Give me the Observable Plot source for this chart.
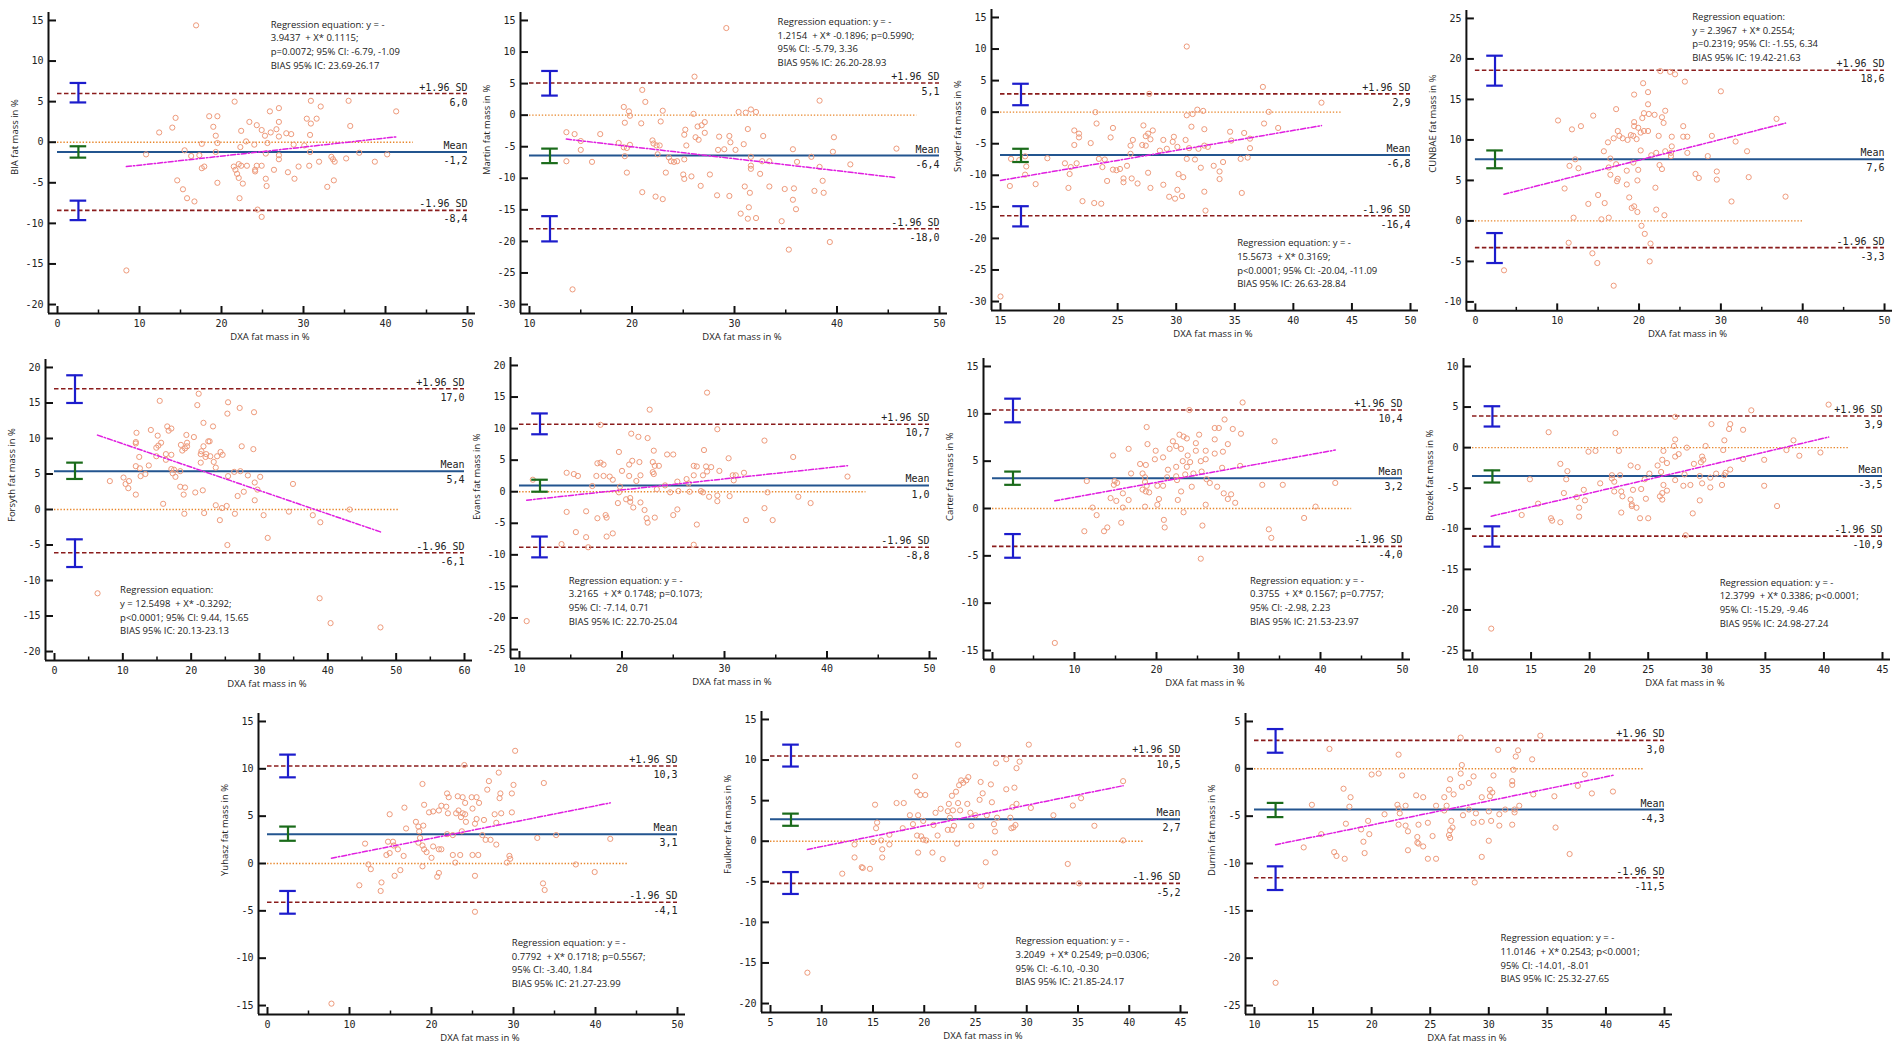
<!DOCTYPE html>
<html><head><meta charset="utf-8">
<script src="https://cdn.jsdelivr.net/npm/d3@7"></script>
<script src="https://cdn.jsdelivr.net/npm/@observablehq/plot@0.6"></script>
<style>
html,body{margin:0;padding:0;background:#fff}
body{width:1902px;height:1052px;position:relative;overflow:hidden}
.panel{position:absolute}
</style></head><body>
<script>
// ---------------- DATA ----------------
const bia = [[16.9,14.4],[21.6,5.0],[30.9,5.1],[35.5,5.1],[32.1,4.4],[27.0,4.2],[25.9,3.8],[41.3,3.8],[14.4,3.0],[18.5,3.2],[19.5,3.2],[30.4,2.9],[31.6,2.9],[23.4,2.5],[27.0,2.5],[30.9,2.3],[14.0,1.8],[19.0,1.9],[24.3,2.1],[35.7,2.0],[24.9,1.5],[26.7,1.6],[22.4,1.4],[12.4,1.2],[26.0,1.2],[27.9,1.1],[28.5,1.0],[19.3,0.8],[25.3,0.8],[27.0,0.7],[30.8,0.9],[23.0,0.1],[17.6,-0.2],[19.5,-0.1],[24.0,-0.3],[25.6,-0.1],[28.8,-0.3],[30.1,-0.4],[22.3,-0.6],[15.5,-1.0],[19.3,-1.2],[30.8,-1.2],[36.8,-1.3],[10.8,-1.5],[16.3,-1.7],[17.3,-1.6],[25.4,-1.4],[27.0,-1.6],[40.2,-1.5],[27.0,-2.1],[33.4,-1.8],[33.6,-2.1],[35.2,-2.0],[31.9,-2.4],[33.8,-2.4],[38.7,-2.4],[17.6,-3.2],[17.9,-3.0],[21.5,-3.0],[22.1,-2.7],[22.4,-2.9],[23.1,-2.9],[24.3,-2.9],[24.9,-2.9],[29.4,-3.0],[30.7,-2.9],[21.7,-3.4],[24.1,-3.4],[26.4,-3.4],[28.1,-3.7],[21.9,-3.9],[24.1,-3.6],[22.1,-4.4],[25.4,-4.5],[28.9,-4.5],[33.7,-4.7],[14.6,-4.7],[19.5,-5.0],[22.6,-5.1],[25.5,-5.4],[32.9,-5.5],[15.3,-5.8],[15.8,-6.9],[22.2,-6.9],[16.7,-7.3],[24.4,-8.3],[24.9,-9.2],[8.4,-15.8]];
const martin = [[29.2,13.8],[26.1,6.1],[21.0,4.0],[21.3,2.1],[38.3,2.3],[19.2,1.3],[19.7,0.6],[19.8,-0.1],[23.0,0.7],[26.0,0.2],[30.4,0.5],[31.1,0.4],[31.6,0.9],[32.1,0.5],[19.3,-1.2],[20.9,-1.3],[22.8,-1.0],[27.1,-1.1],[26.4,-1.8],[26.8,-1.6],[25.2,-2.3],[31.3,-2.2],[13.6,-2.7],[14.4,-3.0],[16.9,-3.0],[27.1,-2.8],[25.1,-3.1],[28.5,-3.4],[29.5,-3.3],[32.8,-3.3],[26.2,-3.5],[39.7,-3.5],[26.5,-3.9],[15.0,-4.1],[22.0,-4.0],[29.6,-4.3],[18.7,-4.4],[22.1,-4.5],[30.9,-4.6],[19.8,-4.7],[22.4,-4.8],[22.7,-4.8],[25.3,-4.8],[19.2,-5.1],[19.5,-5.2],[15.0,-5.5],[28.4,-5.5],[29.0,-5.4],[30.1,-5.5],[35.7,-5.4],[45.8,-5.3],[39.6,-5.8],[22.5,-6.2],[19.3,-6.5],[37.5,-6.6],[31.6,-6.6],[23.6,-6.7],[25.1,-7.0],[13.6,-7.3],[23.8,-7.3],[24.1,-7.4],[24.4,-7.3],[16.1,-7.4],[32.7,-7.3],[33.4,-7.3],[36.1,-7.4],[41.3,-7.8],[31.6,-8.0],[38.3,-8.2],[31.6,-8.5],[19.5,-9.1],[23.3,-9.1],[25.0,-9.4],[27.6,-9.4],[32.5,-9.3],[25.1,-10.1],[25.8,-9.7],[38.6,-10.4],[26.7,-11.2],[31.0,-11.3],[33.4,-11.3],[34.9,-11.7],[35.8,-11.6],[21.0,-12.2],[37.8,-12.0],[38.7,-12.3],[31.5,-12.3],[22.3,-12.9],[28.3,-12.7],[29.5,-12.8],[23.0,-13.3],[35.7,-13.4],[36.0,-14.9],[31.4,-14.6],[30.6,-15.6],[31.3,-16.4],[32.1,-16.3],[34.6,-16.8],[39.3,-20.1],[35.3,-21.3],[14.2,-27.6]];
const snyder = [[30.9,10.4],[37.4,4.0],[27.7,2.9],[42.4,1.5],[23.1,0.0],[31.8,0.4],[32.3,0.2],[37.9,0.05],[30.9,-0.5],[31.4,-0.3],[23.2,-1.8],[37.5,-1.8],[27.2,-2.1],[31.3,-2.3],[24.6,-2.5],[32.4,-2.7],[38.7,-2.5],[28.0,-2.9],[21.3,-2.9],[21.7,-3.4],[27.6,-3.4],[34.6,-3.1],[35.8,-3.3],[27.4,-3.8],[21.7,-4.0],[24.4,-4.0],[29.8,-3.9],[27.8,-4.3],[28.9,-4.4],[30.8,-4.4],[34.7,-4.5],[36.3,-4.2],[22.7,-4.9],[26.3,-4.4],[21.3,-5.2],[26.1,-5.3],[27.1,-5.2],[27.4,-5.3],[29.7,-4.7],[30.1,-5.5],[31.1,-5.7],[31.9,-5.8],[32.4,-5.3],[32.7,-5.5],[36.3,-5.7],[29.2,-5.8],[28.6,-6.1],[26.1,-6.6],[15.9,-7.4],[16.6,-7.6],[17.1,-7.0],[19.0,-7.3],[23.4,-7.4],[23.9,-7.5],[30.9,-7.4],[31.6,-7.5],[35.5,-7.4],[36.1,-7.2],[17.2,-8.6],[20.5,-8.1],[21.5,-8.1],[21.0,-8.7],[23.7,-8.7],[25.8,-8.5],[32.1,-8.8],[33.2,-8.5],[34.0,-7.9],[24.6,-9.1],[24.9,-9.2],[25.2,-9.0],[27.6,-9.6],[17.1,-9.9],[20.9,-9.8],[30.2,-9.8],[30.6,-10.3],[33.7,-9.4],[33.7,-10.6],[24.1,-10.9],[25.5,-10.5],[25.5,-11.1],[26.2,-10.5],[26.7,-11.3],[18.0,-11.4],[15.8,-11.7],[28.9,-11.5],[20.8,-12.0],[27.8,-12.0],[30.1,-12.3],[32.4,-12.6],[35.6,-12.8],[29.4,-13.4],[29.9,-13.7],[30.5,-13.3],[22.0,-14.1],[23.0,-14.4],[23.6,-14.5],[32.5,-15.6],[15.0,-29.2]];
const cunbae = [[22.6,18.5],[23.8,18.4],[24.4,18.1],[25.6,17.2],[20.5,17.0],[30.0,16.0],[21.1,15.9],[19.4,15.6],[21.1,14.4],[17.2,13.8],[23.2,13.6],[14.4,13.0],[20.6,13.3],[21.2,13.2],[21.9,13.1],[20.4,12.7],[22.8,12.8],[36.8,12.6],[10.1,12.4],[19.4,12.2],[23.0,12.1],[12.9,11.7],[19.4,11.7],[25.4,11.7],[11.8,11.3],[19.9,11.5],[17.4,11.1],[20.6,11.1],[21.1,11.1],[20.2,10.9],[17.6,10.5],[19.0,10.6],[19.3,10.5],[22.4,10.5],[24.0,10.4],[25.4,10.4],[25.9,10.4],[28.9,10.5],[16.9,10.2],[18.0,10.2],[18.6,10.0],[19.7,10.1],[31.8,9.8],[16.2,9.7],[24.0,9.2],[23.2,8.6],[20.2,8.7],[15.7,8.6],[22.1,8.4],[23.9,8.4],[25.9,8.4],[33.2,8.6],[21.5,8.1],[28.4,8.0],[23.9,8.0],[16.5,7.7],[12.2,7.6],[17.2,7.0],[19.3,7.2],[22.5,6.9],[11.5,6.8],[16.3,6.6],[12.6,6.5],[18.5,6.2],[22.8,6.4],[19.9,6.3],[29.5,6.1],[16.5,5.7],[26.9,5.8],[17.4,5.2],[17.3,4.9],[19.8,5.0],[27.3,5.3],[29.5,5.1],[33.4,5.4],[18.5,4.5],[10.9,4.0],[22.0,4.1],[15.0,3.2],[37.9,3.0],[18.8,2.9],[13.8,2.1],[15.8,2.2],[31.3,2.4],[19.1,1.6],[19.4,1.8],[19.8,1.1],[22.1,1.4],[23.1,0.7],[12.0,0.4],[15.4,0.2],[16.3,0.4],[20.3,-0.6],[20.7,-1.6],[11.4,-2.7],[21.4,-2.8],[14.3,-4.0],[21.3,-5.0],[14.9,-5.2],[3.5,-6.1],[16.9,-8.0]];
const forsyth = [[21.1,16.3],[15.4,15.3],[25.4,15.1],[20.9,14.7],[27.1,14.3],[29.2,13.7],[25.3,13.5],[21.8,12.2],[23.2,11.7],[16.5,11.7],[17.1,11.4],[14.1,11.2],[16.7,11.1],[12.0,10.8],[15.1,10.4],[19.3,10.5],[20.4,10.2],[11.9,9.5],[11.9,9.3],[15.6,9.4],[18.5,9.1],[19.4,9.4],[22.5,9.6],[22.7,9.6],[15.2,9.0],[14.9,8.7],[19.4,8.9],[21.8,8.9],[27.4,8.9],[18.7,8.3],[19.1,8.6],[29.1,8.5],[21.5,8.2],[24.3,8.1],[16.3,7.8],[17.1,7.7],[21.4,7.8],[22.2,7.8],[24.6,7.7],[22.1,7.4],[22.8,7.5],[23.8,7.5],[12.4,7.4],[14.9,7.5],[16.3,7.0],[23.3,6.7],[21.4,6.6],[13.8,6.2],[11.9,6.1],[12.5,5.8],[23.6,5.9],[17.1,5.7],[17.5,5.6],[18.4,5.4],[17.3,5.1],[26.3,5.3],[27.2,5.4],[13.3,5.0],[12.6,4.7],[17.7,4.6],[25.4,4.7],[28.3,4.8],[30.1,4.6],[10.1,4.5],[8.1,4.0],[10.9,4.0],[29.3,3.8],[10.4,3.6],[34.9,3.6],[10.8,3.0],[18.4,3.2],[19.1,3.1],[29.7,2.8],[21.7,2.7],[20.6,2.4],[27.7,2.5],[11.9,2.1],[18.9,2.1],[26.8,1.9],[29.3,1.3],[15.9,0.8],[23.6,0.6],[25.2,0.5],[24.5,0.2],[43.2,0.0],[19.0,-0.6],[21.9,-0.5],[26.4,-0.6],[30.6,-0.8],[34.3,-0.3],[37.8,-0.8],[38.9,-1.8],[24.2,-1.5],[31.2,-4.0],[25.3,-5.0],[6.3,-11.8],[38.8,-12.5],[40.4,-16.0],[47.7,-16.6]];
const evans = [[28.3,15.7],[22.7,13.0],[17.9,10.6],[29.3,9.9],[20.9,9.2],[21.6,8.7],[22.5,8.5],[33.9,8.1],[28.0,6.6],[19.7,6.3],[23.1,6.5],[24.4,5.9],[25.0,5.9],[36.7,5.5],[30.4,5.3],[21.0,4.9],[21.7,4.7],[23.0,4.7],[17.6,4.5],[17.9,4.6],[18.2,4.3],[20.7,4.3],[23.2,4.1],[23.6,4.1],[27.0,4.1],[27.3,4.0],[28.2,4.0],[28.7,3.9],[14.6,3.0],[15.3,2.8],[15.7,2.5],[20.0,3.3],[23.0,3.1],[28.3,3.2],[29.5,3.3],[31.9,3.0],[17.5,2.5],[18.2,2.5],[18.8,2.4],[19.1,1.9],[20.7,2.5],[21.8,2.6],[23.1,2.8],[27.0,2.6],[27.9,2.6],[30.8,2.6],[31.1,2.6],[30.9,1.8],[42.0,2.4],[25.4,1.6],[26.3,2.0],[26.5,1.3],[21.4,1.7],[11.3,1.9],[17.1,0.9],[19.8,0.8],[24.2,1.0],[19.7,-0.1],[23.4,0.4],[24.7,-0.1],[25.5,0.1],[26.6,0.0],[27.7,0.1],[27.9,-0.1],[34.2,-0.1],[29.3,-0.6],[28.5,-0.8],[30.5,-0.7],[37.2,-0.8],[20.4,-1.2],[20.8,-1.0],[20.8,-1.6],[21.1,-2.5],[21.8,-1.7],[29.3,-1.5],[19.6,-1.8],[38.4,-1.8],[22.2,-2.9],[25.4,-2.8],[33.9,-2.6],[14.6,-3.2],[16.5,-3.1],[18.4,-3.7],[18.5,-4.1],[17.6,-4.2],[23.2,-4.1],[22.4,-4.2],[25.0,-3.7],[22.5,-4.9],[32.1,-4.5],[34.7,-4.5],[27.3,-5.2],[15.5,-6.4],[19.1,-6.6],[16.5,-7.2],[18.5,-7.1],[14.1,-8.3],[16.7,-8.8],[27.0,-8.4],[10.7,-20.5]];
const carter = [[30.5,11.2],[24.0,10.4],[28.3,9.4],[18.8,8.6],[27.1,8.5],[27.6,8.5],[29.3,8.4],[22.8,7.8],[25.2,7.8],[30.3,7.9],[23.3,7.6],[23.7,7.4],[27.1,7.3],[22.0,7.1],[34.4,7.1],[18.9,6.8],[24.8,6.9],[28.7,6.8],[22.4,6.6],[21.6,6.3],[23.0,6.3],[16.6,6.3],[19.9,6.1],[24.8,6.1],[26.0,6.1],[28.1,6.0],[27.1,5.8],[14.7,5.6],[23.8,5.6],[20.8,5.4],[19.8,5.2],[25.4,5.0],[26.0,5.2],[23.2,5.0],[24.1,4.9],[18.0,4.7],[18.7,4.6],[22.4,4.4],[23.7,4.4],[28.0,4.3],[30.2,4.5],[21.4,4.1],[25.5,3.9],[16.9,3.7],[18.3,3.7],[23.5,3.6],[24.5,3.7],[22.4,3.4],[18.6,3.3],[21.3,3.3],[26.1,3.1],[22.5,3.0],[11.5,2.9],[14.9,2.9],[18.6,2.8],[15.2,2.7],[14.8,2.5],[26.5,2.7],[32.9,2.5],[35.4,2.5],[41.8,2.7],[18.8,2.4],[20.1,2.4],[20.8,2.4],[24.3,2.3],[27.4,2.3],[18.3,2.0],[18.7,1.8],[19.1,1.7],[23.0,1.8],[28.2,1.6],[29.1,1.5],[15.9,1.6],[28.7,1.0],[14.4,1.1],[15.1,0.8],[16.6,0.9],[20.3,1.0],[22.6,0.9],[29.6,0.6],[20.1,0.4],[26.0,0.4],[18.6,0.2],[12.2,0.1],[15.9,0.1],[39.4,0.2],[23.3,-0.4],[12.7,-0.7],[38.0,-1.0],[20.9,-1.2],[15.7,-1.5],[25.6,-1.8],[21.0,-2.0],[14.0,-2.0],[33.7,-2.2],[11.2,-2.4],[13.6,-2.4],[34.0,-3.1],[25.4,-5.3],[7.6,-14.2]];
const brozek = [[40.4,5.3],[33.8,4.6],[27.3,3.8],[30.4,2.9],[32.0,2.9],[31.9,2.3],[33.1,2.2],[16.5,1.9],[22.2,1.8],[27.3,1.0],[31.5,0.9],[37.4,0.9],[27.2,0.2],[28.3,0.0],[29.9,0.2],[19.9,-0.5],[20.5,-0.4],[22.5,-0.4],[26.3,-0.4],[31.4,-0.3],[36.8,-0.3],[39.7,-0.6],[27.6,-0.8],[37.9,-1.0],[27.3,-1.1],[29.6,-1.1],[29.7,-1.5],[26.2,-1.5],[34.9,-1.5],[33.1,-1.4],[26.6,-1.9],[29.5,-1.8],[28.9,-2.0],[17.5,-2.0],[23.5,-2.2],[24.1,-2.4],[25.8,-2.2],[32.0,-2.7],[18.1,-2.9],[26.1,-3.0],[31.6,-3.1],[25.1,-3.2],[30.8,-3.2],[21.9,-3.4],[22.6,-3.4],[28.1,-3.3],[29.4,-3.5],[30.3,-3.7],[31.5,-3.4],[14.9,-3.9],[18.0,-3.9],[21.9,-3.8],[22.1,-4.2],[27.3,-4.0],[24.7,-3.9],[20.9,-4.4],[26.3,-4.6],[28.6,-4.6],[28.0,-4.7],[29.6,-4.4],[31.3,-4.6],[30.3,-4.9],[34.9,-4.7],[23.7,-5.2],[24.4,-5.1],[19.5,-5.2],[26.6,-5.3],[22.1,-5.4],[22.7,-5.4],[17.8,-5.6],[26.2,-5.6],[26.0,-6.0],[22.8,-6.0],[18.9,-6.1],[19.6,-6.5],[23.5,-6.4],[24.8,-6.3],[26.2,-6.4],[29.4,-6.5],[15.6,-6.9],[23.6,-7.0],[23.6,-7.2],[24.0,-7.4],[19.1,-7.4],[36.0,-7.2],[22.7,-8.0],[28.8,-8.1],[14.2,-8.3],[16.7,-8.7],[16.8,-9.0],[17.5,-9.2],[19.1,-8.5],[24.3,-8.7],[25.0,-8.7],[28.2,-10.8],[11.6,-22.3]];
const yuhasz = [[30.2,11.9],[24.0,10.4],[28.2,9.6],[27.0,8.7],[33.7,8.5],[18.9,8.4],[30.0,8.3],[26.8,7.8],[21.9,7.4],[28.4,7.4],[29.8,7.4],[22.1,7.0],[23.2,7.1],[23.8,7.0],[24.9,7.0],[25.5,7.0],[28.3,6.9],[24.1,6.4],[25.8,6.4],[19.1,6.2],[21.2,6.1],[21.8,6.0],[16.7,5.9],[25.0,5.8],[19.7,5.4],[20.2,5.5],[20.9,5.6],[22.0,5.3],[23.0,5.3],[23.3,5.6],[23.8,5.3],[24.1,5.2],[28.5,5.3],[29.8,5.4],[14.9,5.2],[23.6,4.9],[25.5,4.7],[26.4,4.6],[24.2,4.4],[18.1,4.4],[25.3,4.2],[27.7,5.2],[27.9,4.3],[19.0,4.0],[18.4,3.9],[16.9,3.7],[18.5,3.4],[23.7,3.4],[21.9,3.1],[22.6,3.0],[26.2,3.0],[35.2,3.0],[18.6,2.7],[32.9,2.7],[41.8,2.6],[26.6,2.5],[27.2,2.5],[14.7,2.3],[15.3,2.3],[18.4,2.2],[11.9,2.1],[27.9,2.0],[15.4,1.9],[18.9,1.9],[20.2,1.8],[19.1,1.5],[20.9,1.5],[21.2,1.5],[15.9,1.5],[19.4,1.2],[14.9,1.1],[14.5,0.9],[16.6,0.8],[22.6,0.9],[23.5,0.9],[25.0,0.9],[25.7,0.9],[20.0,0.6],[29.5,0.8],[29.6,0.5],[22.9,0.1],[29.2,0.1],[12.3,-0.1],[18.9,-0.3],[37.6,-0.1],[12.6,-0.6],[16.2,-0.7],[39.9,-0.9],[20.9,-1.0],[20.7,-1.4],[15.5,-1.3],[25.3,-1.3],[13.9,-2.0],[33.6,-2.1],[11.2,-2.3],[33.8,-2.8],[13.8,-2.9],[25.3,-5.1],[7.8,-14.8]];
const faulkner = [[23.3,11.9],[30.2,11.9],[28.0,10.1],[27.0,9.6],[29.3,9.8],[29.0,9.0],[19.1,8.0],[24.3,7.9],[23.6,7.5],[24.1,7.5],[25.5,7.3],[39.4,7.4],[23.4,6.9],[23.8,7.2],[26.5,7.0],[28.8,6.6],[28.0,6.4],[23.1,6.1],[19.3,6.1],[19.6,5.7],[20.1,5.7],[25.7,5.9],[22.7,5.6],[25.4,5.1],[35.3,5.3],[17.3,4.7],[18.0,4.7],[22.4,4.6],[23.3,4.7],[24.2,4.6],[26.6,4.8],[15.2,4.5],[29.0,4.6],[34.5,4.4],[21.6,4.0],[30.4,4.1],[28.6,4.2],[21.1,3.5],[22.3,3.7],[22.8,3.8],[23.5,3.8],[24.5,3.5],[25.0,3.2],[26.1,3.2],[18.6,3.2],[19.4,3.2],[32.6,3.2],[22.5,2.9],[27.1,2.9],[28.4,2.9],[19.9,2.5],[15.4,2.3],[18.9,2.1],[20.9,2.0],[22.9,1.9],[24.6,1.9],[26.8,2.1],[28.9,2.0],[36.6,1.9],[15.3,1.6],[17.9,1.6],[22.3,1.4],[22.7,1.4],[28.5,1.6],[28.7,1.7],[26.9,1.2],[16.6,0.8],[19.3,0.7],[21.3,0.7],[19.7,0.6],[19.9,0.2],[20.2,0.1],[15.8,0.1],[15.0,-0.1],[39.4,0.1],[13.2,-0.4],[16.6,-0.4],[23.2,-0.3],[15.9,-1.0],[19.4,-1.4],[20.8,-1.4],[26.9,-1.4],[13.2,-2.0],[15.9,-2.0],[21.8,-2.2],[26.0,-2.6],[34.0,-2.8],[13.9,-3.2],[14.0,-3.3],[14.7,-3.4],[12.0,-4.0],[35.1,-5.2],[25.5,-5.5],[8.6,-16.2]];
const durnin = [[34.4,3.5],[27.6,3.3],[16.4,2.1],[30.8,2.0],[32.5,1.95],[22.3,1.5],[32.3,1.3],[33.7,1.0],[27.7,0.4],[32.1,-0.1],[27.6,-0.5],[20.0,-0.6],[20.6,-0.5],[22.6,-0.7],[28.7,-0.8],[30.4,-0.7],[38.2,-0.6],[26.7,-1.1],[32.0,-1.3],[28.3,-1.5],[32.0,-1.7],[37.6,-1.8],[27.7,-1.9],[17.6,-2.1],[26.6,-2.2],[30.1,-2.2],[40.6,-2.4],[30.3,-2.5],[27.0,-2.7],[38.8,-2.6],[33.8,-2.7],[23.8,-2.8],[30.1,-2.9],[29.4,-3.0],[24.4,-3.0],[18.2,-3.0],[26.2,-3.0],[35.6,-2.9],[14.9,-3.8],[18.1,-4.0],[22.2,-3.8],[22.9,-3.9],[25.5,-3.9],[26.4,-3.9],[32.6,-3.9],[22.3,-4.2],[26.2,-4.4],[28.3,-4.3],[30.0,-4.5],[31.4,-4.3],[32.2,-4.3],[22.4,-4.7],[21.1,-4.8],[28.9,-4.7],[30.9,-4.8],[32.2,-4.6],[27.8,-4.9],[19.7,-5.5],[30.2,-5.5],[26.8,-5.5],[28.7,-5.7],[29.4,-5.6],[17.8,-5.8],[22.3,-5.9],[24.8,-5.7],[24.0,-5.9],[22.9,-6.0],[26.9,-6.2],[30.9,-6.0],[32.0,-5.9],[35.7,-6.2],[19.1,-6.4],[23.1,-6.6],[26.7,-6.5],[15.7,-6.9],[19.8,-6.9],[25.2,-7.1],[23.9,-7.2],[26.6,-7.0],[26.7,-7.3],[19.3,-7.7],[30.0,-7.6],[23.9,-7.8],[24.0,-7.9],[24.4,-8.2],[14.2,-8.3],[19.4,-8.9],[23.1,-8.6],[16.8,-8.8],[17.0,-9.2],[17.7,-9.5],[24.8,-9.5],[25.5,-9.5],[29.4,-9.3],[36.9,-9.0],[28.8,-12.0],[11.8,-22.6]];

const methods = ["BIA","Martin","Snyder","CUNBAE","Forsyth","Evans","Carter","Brozek","Yuhasz","Faulkner","Durnin"];
const methodPoints = [bia, martin, snyder, cunbae, forsyth, evans, carter, brozek, yuhasz, faulkner, durnin];

const xTickLabels = [[0,10,20,30,40,50],[10,20,30,40,50],[15,20,25,30,35,40,45,50],[0,10,20,30,40,50],[0,10,20,30,40,50,60],[10,20,30,40,50],[0,10,20,30,40,50],[10,15,20,25,30,35,40,45],[0,10,20,30,40,50],[5,10,15,20,25,30,35,40,45],[10,15,20,25,30,35,40,45]];
const xMinorTicks = [[5,15,25,35,45],[15,25,35,45],[],[5,15,25,35,45],[5,15,25,35,45,55],[15,25,35,45],[5,15,25,35,45],[],[5,15,25,35,45],[],[]];
const yTickLabels = [[-20,-15,-10,-5,0,5,10,15],[-30,-25,-20,-15,-10,-5,0,5,10,15],[-30,-25,-20,-15,-10,-5,0,5,10,15],[-10,-5,0,5,10,15,20,25],[-20,-15,-10,-5,0,5,10,15,20],[-25,-20,-15,-10,-5,0,5,10,15,20],[-15,-10,-5,0,5,10,15],[-25,-20,-15,-10,-5,0,5,10],[-15,-10,-5,0,5,10,15],[-20,-15,-10,-5,0,5,10,15],[-25,-20,-15,-10,-5,0,5]];

const meanBias = [-1.2,-6.4,-6.8,7.6,5.4,1.0,3.2,-3.5,3.1,2.7,-4.3];
const upperLoA = [6.0,5.1,2.9,18.6,17.0,10.7,10.4,3.9,10.3,10.5,3.0];
const lowerLoA = [-8.4,-18.0,-16.4,-3.3,-6.1,-8.8,-4.0,-10.9,-4.1,-5.2,-11.5];
const upperCI = [[4.9,7.3],[3.1,7.0],[1.1,4.5],[16.7,20.4],[15.0,18.9],[9.1,12.4],[9.1,11.6],[2.6,5.1],[9.1,11.5],[9.2,11.9],[1.7,4.2]];
const meanCI = [[-1.9,-0.5],[-7.6,-5.3],[-7.9,-5.8],[6.5,8.7],[4.3,6.6],[0.0,1.9],[2.5,3.9],[-4.3,-2.8],[2.4,3.9],[1.9,3.4],[-5.1,-3.6]];
const lowerCI = [[-9.6,-7.2],[-20.0,-16.0],[-18.1,-14.9],[-5.2,-1.5],[-8.1,-4.2],[-10.4,-7.1],[-5.2,-2.7],[-12.2,-9.7],[-5.3,-2.9],[-6.5,-3.8],[-12.8,-10.3]];
const zeroLineEnd = [43.4,47.8,44.1,40.1,50.4,43.8,43.8,42.1,43.9,41.4,43.2];
const regIntercept = [-3.9437,-1.2154,-15.5673,2.3967,12.5498,-3.2165,-0.3755,-12.3799,-0.7792,-3.2049,-11.0146];
const regSlope = [0.1115,-0.1896,0.3169,0.2554,-0.3292,0.1748,0.1567,0.3386,0.1718,0.2549,0.2543];
const regressionText = [
  ["Regression equation: y = -","3.9437  + X* 0.1115;","p=0.0072; 95% CI: -6.79, -1.09","BIAS 95% IC: 23.69-26.17"],
  ["Regression equation: y = -","1.2154  + X* -0.1896; p=0.5990;","95% CI: -5.79, 3.36","BIAS 95% IC: 26.20-28.93"],
  ["Regression equation: y = -","15.5673  + X* 0.3169;","p<0.0001; 95% CI: -20.04, -11.09","BIAS 95% IC: 26.63-28.84"],
  ["Regression equation:","y = 2.3967  + X* 0.2554;","p=0.2319; 95% CI: -1.55, 6.34","BIAS 95% IC: 19.42-21.63"],
  ["Regression equation:","y = 12.5498  + X* -0.3292;","p<0.0001; 95% CI: 9.44, 15.65","BIAS 95% IC: 20.13-23.13"],
  ["Regression equation: y = -","3.2165  + X* 0.1748; p=0.1073;","95% CI: -7.14, 0.71","BIAS 95% IC: 22.70-25.04"],
  ["Regression equation: y = -","0.3755  + X* 0.1567; p=0.7757;","95% CI: -2.98, 2.23","BIAS 95% IC: 21.53-23.97"],
  ["Regression equation: y = -","12.3799  + X* 0.3386; p<0.0001;","95% CI: -15.29, -9.46","BIAS 95% IC: 24.98-27.24"],
  ["Regression equation: y = -","0.7792  + X* 0.1718; p=0.5567;","95% CI: -3.40, 1.84","BIAS 95% IC: 21.27-23.99"],
  ["Regression equation: y = -","3.2049  + X* 0.2549; p=0.0306;","95% CI: -6.10, -0.30","BIAS 95% IC: 21.85-24.17"],
  ["Regression equation: y = -","11.0146  + X* 0.2543; p<0.0001;","95% CI: -14.01, -8.01","BIAS 95% IC: 25.32-27.65"]
];

// ---------------- LAYOUT (positions, not data) ----------------
const panelOrigin = [[0,0],[472,0],[943,-3],[1418,-2],[-3,347],[462,345],[935,346],[1415,346],[210,701],[713,699],[1197,701]];
const ciBarX = [2.55,12,16.75,2.4,3,12,2.5,11.7,2.5,7,11.8];
const notePlace = [[26.0,15.33],[34.2,15.8],[35.2,-19.7],[26.5,26.0],[9.6,-10.44],[14.8,-13.0],[31.4,-6.9],[31.1,-15.8],[29.8,-7.7],[28.9,-11.5],[31.0,-17.2]];

const MONO = "DejaVu Sans Mono";
const SANS = "Open Sans";
const TICKW = 410, TICKH = 285;

function fmtComma(v){ return v.toFixed(1).replace(".", ","); }

function panel(i){
  const pts = methodPoints[i].map(([x,y]) => ({x, y}));
  const xt = xTickLabels[i], yt = yTickLabels[i];
  const x0 = xt[0], x1 = xt[xt.length-1], y0 = yt[0], y1 = yt[yt.length-1];
  const ux = (x1 - x0) / TICKW, uy = (y1 - y0) / TICKH;
  const xd = [x0 - 9*ux, x1 + 8*ux], yd = [y0 - 9*uy, y1 + 8*uy];
  const [ex0, ex1] = d3.extent(pts, d => d.x);
  const reg = [ex0, ex1].map(x => ({x, y: regIntercept[i] + regSlope[i]*x}));
  const cx = ciBarX[i], cap = 8.3*ux;
  const blue = [upperCI[i], lowerCI[i]].map(([a,b]) => ({a,b}));
  const green = [{a: meanCI[i][0], b: meanCI[i][1]}];
  const levels = [
    {v: upperLoA[i], top: "+1.96 SD"},
    {v: meanBias[i], top: "Mean"},
    {v: lowerLoA[i], top: "-1.96 SD"}
  ];
  const bars = (arr, color) => [
    Plot.ruleX(arr, {x: cx, y1: "a", y2: "b", stroke: color, strokeWidth: 2.2}),
    Plot.ruleY(arr, {y: "a", x1: cx - cap, x2: cx + cap, stroke: color, strokeWidth: 2.2}),
    Plot.ruleY(arr, {y: "b", x1: cx - cap, x2: cx + cap, stroke: color, strokeWidth: 2.2})
  ];
  const [nx, ny] = notePlace[i];
  return Plot.plot({
    width: 485, height: 354,
    marginLeft: 48, marginTop: 12, marginRight: 10, marginBottom: 41,
    x: {domain: xd, axis: null},
    y: {domain: yd, axis: null},
    style: {background: "transparent", overflow: "visible"},
    marks: [
      Plot.ruleY([0], {x1: x0, x2: zeroLineEnd[i], stroke: "#e8872c", strokeWidth: 1.4, strokeDasharray: "1.4,1.8"}),
      Plot.ruleY([upperLoA[i], lowerLoA[i]], {x1: x0, x2: x1, stroke: "#8a1c1c", strokeWidth: 1.6, strokeDasharray: "4.5,2.5"}),
      Plot.ruleY([meanBias[i]], {x1: x0, x2: x1, stroke: "#23558f", strokeWidth: 2}),
      Plot.dot(pts, {x: "x", y: "y", r: 2.6, stroke: "#ee9a7b", strokeWidth: 1, fill: "none"}),
      Plot.line(reg, {x: "x", y: "y", stroke: "#e01ee0", strokeWidth: 1.5, strokeDasharray: "5,2,1.5,2"}),
      ...bars(blue, "#1c1ccc"),
      ...bars(green, "#1a6b1a"),
      // axes
      Plot.ruleX([xd[0]], {y1: yd[0], y2: yd[1], stroke: "#111", strokeWidth: 2}),
      Plot.ruleY([yd[0]], {x1: xd[0], x2: xd[1], stroke: "#111", strokeWidth: 2}),
      Plot.ruleY(yt, {x1: xd[0], x2: xd[0] + 8*ux, stroke: "#111", strokeWidth: 2}),
      Plot.ruleX(xt, {y1: yd[0], y2: yd[0] + 7*uy, stroke: "#111", strokeWidth: 2}),
      Plot.ruleX(xMinorTicks[i], {y1: yd[0], y2: yd[0] + 3.5*uy, stroke: "#111", strokeWidth: 1.5}),
      Plot.text(yt, {x: xd[0], y: d => d, text: d => String(d), textAnchor: "end", dx: -5, fontFamily: MONO, fontSize: 10, fill: "#222"}),
      Plot.text(xt, {x: d => d, y: yd[0], text: d => String(d), lineAnchor: "top", dy: 6, fontFamily: MONO, fontSize: 10, fill: "#222"}),
      Plot.text([`${methods[i]} fat mass in %`], {frameAnchor: "left", text: d => d, rotate: -90, dx: -34, dy: 12, fontFamily: SANS, fontSize: 9.5, fill: "#222"}),
      Plot.text(["DXA fat mass in %"], {frameAnchor: "bottom", text: d => d, dx: 8, dy: 26, fontFamily: SANS, fontSize: 9.5, fill: "#222"}),
      // level labels
      Plot.text(levels, {x: x1, y: "v", text: "top", textAnchor: "end", lineAnchor: "bottom", dy: -3, fontFamily: MONO, fontSize: 10, fill: "#222"}),
      Plot.text(levels, {x: x1, y: "v", text: d => fmtComma(d.v), textAnchor: "end", lineAnchor: "top", dy: 5, fontFamily: MONO, fontSize: 10, fill: "#222"}),
      // regression note
      Plot.text([regressionText[i].join("\n")], {x: nx, y: ny, text: d => d, textAnchor: "start", lineAnchor: "top", lineHeight: 1.44, fontFamily: SANS, fontSize: 9.5, fill: "#222"})
    ]
  });
}

methods.forEach((m, i) => {
  const div = document.createElement("div");
  div.className = "panel";
  div.style.left = panelOrigin[i][0] + "px";
  div.style.top = panelOrigin[i][1] + "px";
  div.appendChild(panel(i));
  document.body.appendChild(div);
});
</script>
</body></html>
